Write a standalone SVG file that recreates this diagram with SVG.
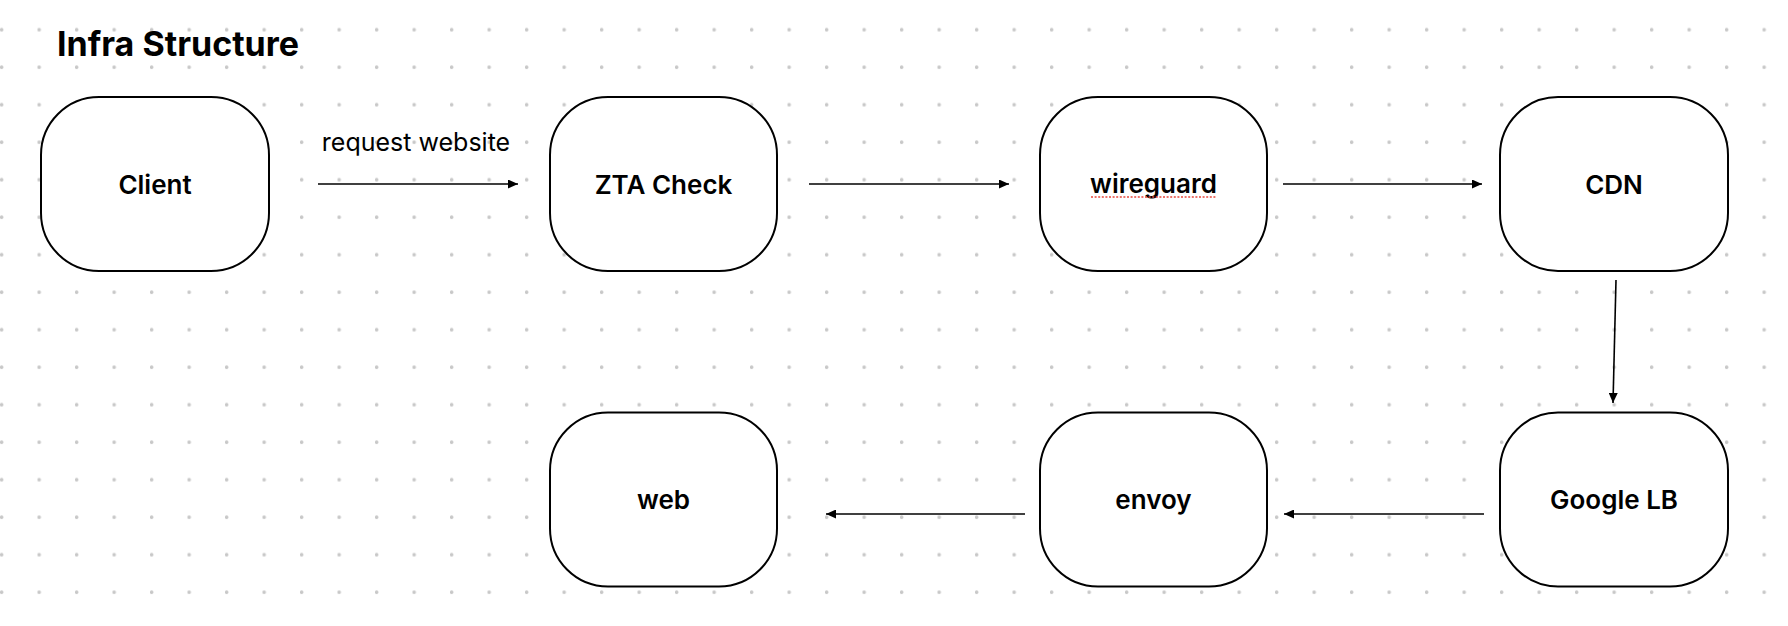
<svg xmlns="http://www.w3.org/2000/svg" width="1788" height="626" viewBox="0 0 1788 626">
  <style>
    .node rect { fill: #ffffff; stroke: #000000; stroke-width: 2; }
    .node text { font-family: Inter, "Liberation Sans", sans-serif; font-weight: 600; font-size: 26px; fill: #000000; text-anchor: middle; }
    .conn line { stroke: #000000; stroke-width: 1.6; marker-end: url(#arrow); }
    .title { font-family: Inter, "Liberation Sans", sans-serif; font-weight: 700; font-size: 34px; fill: #000000; }
    .label { font-family: Inter, "Liberation Sans", sans-serif; font-weight: 400; font-size: 25px; fill: #000000; }
  </style>
  <defs>
    <pattern id="dots" x="0" y="0" width="37.5" height="37.5" patternUnits="userSpaceOnUse">
      <circle cx="1.7" cy="29.8" r="1.8" fill="#c8c8c8"/>
    </pattern>
    <marker id="arrow" markerUnits="userSpaceOnUse" markerWidth="10" markerHeight="9" refX="10" refY="4.5" orient="auto">
      <path d="M0,0 L10,4.5 L0,9 z" fill="#000000"/>
    </marker>
  </defs>
  <rect x="0" y="0" width="1788" height="626" fill="#ffffff"/>
  <rect x="0" y="0" width="1788" height="626" fill="url(#dots)"/>

  <text class="title" x="57" y="56">Infra Structure</text>

  <g id="connectors" class="conn">
    <line x1="318" y1="184" x2="518" y2="184"/>
    <line x1="809" y1="184" x2="1009" y2="184"/>
    <line x1="1283" y1="184" x2="1482" y2="184"/>
    <line x1="1616" y1="280" x2="1613" y2="403"/>
    <line x1="1484" y1="514" x2="1284" y2="514"/>
    <line x1="1025" y1="514" x2="826" y2="514"/>
    <text class="label" x="416" y="151" text-anchor="middle">request website</text>
  </g>

  <g id="client" class="node">
    <rect x="41" y="97" width="228" height="174" rx="58" ry="58"/>
    <text x="155" y="194">Client</text>
  </g>
  <g id="zta" class="node">
    <rect x="550" y="97" width="227" height="174" rx="58" ry="58"/>
    <text x="663.5" y="194">ZTA Check</text>
  </g>
  <g id="wireguard" class="node">
    <rect x="1040" y="97" width="227" height="174" rx="58" ry="58"/>
    <text x="1153.5" y="192.5">wireguard</text>
    <line x1="1091" y1="197" x2="1216" y2="197" stroke="#e8463a" stroke-width="1.6" stroke-dasharray="2,1.6"/>
  </g>
  <g id="cdn" class="node">
    <rect x="1500" y="97" width="228" height="174" rx="58" ry="58"/>
    <text x="1614" y="194">CDN</text>
  </g>
  <g id="googlelb" class="node">
    <rect x="1500" y="412.5" width="228" height="174" rx="58" ry="58"/>
    <text x="1614" y="509">Google LB</text>
  </g>
  <g id="envoy" class="node">
    <rect x="1040" y="412.5" width="227" height="174" rx="58" ry="58"/>
    <text x="1153.5" y="509">envoy</text>
  </g>
  <g id="web" class="node">
    <rect x="550" y="412.5" width="227" height="174" rx="58" ry="58"/>
    <text x="663.5" y="509">web</text>
  </g>
</svg>
